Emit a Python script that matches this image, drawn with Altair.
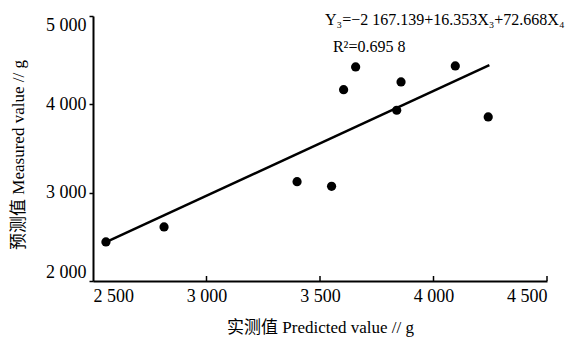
import altair as alt
import pandas as pd

# Data
pred_x = [2557, 2813, 3399, 3551, 3604, 3657, 3838, 3857, 4096, 4241]
meas_y = [2442, 2612, 3124, 3072, 4166, 4423, 3933, 4254, 4435, 3857]
fit_x = [2557, 4246]
fit_y = [2440, 4443]
x_ticks = [2500, 3000, 3500, 4000, 4500]
y_ticks = [2000, 3000, 4000, 5000]
ann_text = ["Y\u2083=\u22122  167.139+16.353X\u2083+72.668X\u2084", "R\u00b2=0.695  8"]
ann_x = [3522, 3557]
ann_y = [4956, 4650]

FONT = "Liberation Serif, Noto Sans CJK SC"
W, H = 454, 265

pts = pd.DataFrame({"x": pred_x, "y": meas_y})
fit = pd.DataFrame({"x": fit_x, "y": fit_y})
ticks = pd.DataFrame({"t": x_ticks[1:]})
ann = pd.DataFrame({"x": ann_x, "y": ann_y, "label": ann_text})

lab = "replace(format(datum.value, ','), ',', ' ')"

xs = alt.Scale(domain=[2500, 4500], nice=False)
ys = alt.Scale(domain=[2000, 5000], nice=False)

xaxis = alt.Axis(values=x_ticks, labelExpr=lab, tickSize=0, labelPadding=6,
                 title="实测值 Predicted value // g", titleX=W / 2, titleY=46,
                 titleBaseline="middle", titleAlign="center")
yaxis = alt.Axis(values=y_ticks, labelExpr=lab, tickSize=4, labelPadding=3,
                 labelFlush=True,
                 title="预测值 Measured value // g", titleX=-75, titleY=H / 2 + 6,
                 titleBaseline="middle", titleAlign="center")

points = alt.Chart(pts).mark_circle(size=85, color="black", opacity=1).encode(
    x=alt.X("x:Q", scale=xs, axis=xaxis),
    y=alt.Y("y:Q", scale=ys, axis=yaxis),
)

line = alt.Chart(fit).mark_line(color="black", strokeWidth=2.5).encode(
    x=alt.X("x:Q", scale=xs),
    y=alt.Y("y:Q", scale=ys),
)

inticks = alt.Chart(ticks).mark_rule(color="black", strokeWidth=1.5).encode(
    x=alt.X("t:Q", scale=xs),
    y=alt.value(H),
    y2=alt.value(H - 5),
)

text = alt.Chart(ann).mark_text(align="left", baseline="middle", font=FONT,
                                fontSize=16, color="black").encode(
    x=alt.X("x:Q", scale=xs),
    y=alt.Y("y:Q", scale=ys),
    text="label:N",
)

chart = alt.layer(line, points, inticks, text).properties(
    width=W, height=H,
    autosize="none",
    padding={"left": 93, "top": 16, "right": 21, "bottom": 57},
    background="white",
).configure_view(stroke=None).configure_axis(
    grid=False,
    domainColor="black", domainWidth=2,
    tickColor="black", tickWidth=1.5,
    labelFont=FONT, labelFontSize=18, labelColor="black",
    titleFont=FONT, titleFontSize=17, titleFontWeight="normal", titleColor="black",
)

chart.save("out.html", embed_options={"renderer": "svg", "actions": False})
